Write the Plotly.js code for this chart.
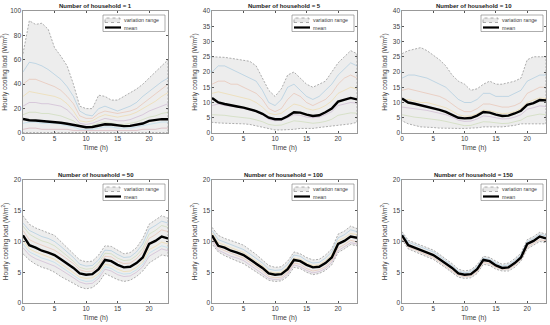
<!DOCTYPE html>
<html>
<head>
<meta charset="utf-8">
<script src="https://cdn.plot.ly/plotly-3.0.1.min.js"></script>
<style>html,body{margin:0;padding:0;background:#fff}#chart{width:550px;height:325px}</style>
</head>
<body>
<div id="chart"></div>
<script>
// ---------- DATA ----------
const hours = [0,1,2,3,4,5,6,7,8,9,10,11,12,13,14,15,16,17,18,19,20,21,22,23];
const householdCounts = [1, 5, 10, 50, 100, 150];
const legendLabels = ['variation range', 'mean'];

// Panel n = 1
const upper1 = [65,92,89,90,85,70,63,55,40,22,20,20,31,30,27,27,30,33,36,40,45,50,55,60];
const lower1 = [0.3,0.3,0.3,0.3,0.3,0.3,0.3,0.3,0.3,0.3,0.3,0.3,0.3,0.3,0.3,0.3,0.3,0.3,0.3,0.3,0.3,0.3,0.3,0.3];
const mean1  = [11.5,10.5,10.2,9.8,9.4,9.0,8.4,7.6,6.6,5.2,4.7,4.9,6.0,7.2,7.0,6.2,5.6,5.8,6.6,7.8,10.0,10.6,11.4,11.3];
const s1a = [50,58,57,55,52,48,44,38,30,18,15,14,20,22,20,18,20,22,25,30,34,38,42,45];
const s1b = [40,44,44,42,40,38,35,30,24,14,12,12,16,18,17,16,17,18,20,24,28,32,36,40];
const s1c = [30,34,33,32,31,30,28,24,18,10,9,10,13,15,14,13,14,15,17,20,23,26,30,33];
const s1d = [22,25,25,24,24,23,22,19,14,8,7,8,10,12,11,10,10,11,13,15,18,20,22,24];
const s1e = [15,17,17,16,16,15,14,12,10,6,5,6,8,9,8,7,7,8,9,11,13,14,16,17];
const s1f = [8,9,9,8,8,8,7,6,5,3,3,3,4,5,5,4,4,4,5,6,7,8,9,9];
const s1g = [3,4,4,3,3,3,3,3,2,2,1.5,1.5,2,2,2,2,2,2,2,3,3,3,4,4];

// Panel n = 5
const upper5 = [25,25,24.8,24.5,24.2,24,23.5,22,18,14,12,14.5,19,20,18,16,15,16,17,20,23,25,27,26];
const lower5 = [3.5,3.3,3.2,3.1,3,3,2.8,2.5,2,1.5,1,1,1,1.2,1.5,1.5,1.5,1.8,2,2.2,2.5,2.8,3,3.5];
const mean5  = [11.5,10,9.5,9,8.7,8.3,7.8,7.2,6.3,5,4.5,4.5,5.5,6.8,6.7,6,5.6,5.8,6.8,8,10.3,11,11.5,11];
const s5a = [20,22,22,21,20,19,18,17,14,10,9,11,15,16,14,12,11,12,14,16,19,21,23,22];
const s5b = [16,17,17,16,16,15,14,13,11,8,7,8,11,13,12,10,9,10,11,13,16,18,19,18];
const s5c = [13,13.5,13,12.5,12,11.5,11,10,8.5,6.5,6,6.5,8,9.5,9,8,7.5,8,9,10.5,13,14,15,14.5];
const s5d = [9,9.5,9,8.8,8.5,8,7.5,7,6,4.5,4,4.2,5,6,5.8,5.2,5,5.2,6,7,9,9.5,10,9.8];
const s5e = [6,6,5.8,5.5,5.3,5,4.8,4.3,3.7,2.8,2.5,2.6,3.2,4,3.8,3.4,3.2,3.4,3.8,4.5,5.8,6.2,6.6,6.5];

// Panel n = 10
const upper10 = [26,27,27.5,28,27,25.5,24,22,19,17,16,14,14.5,16,17,16,16,16.5,17,18,24,25,25,25];
const lower10 = [4,3,2.5,2,2,1.8,1.6,1.5,1.5,1.5,1.5,1.5,1.7,2,2,2,2,2.2,2.5,3,3,3,3,3];
const mean10  = [11.3,10,9.6,9.1,8.8,8.3,7.6,6.9,6.0,5.0,4.8,4.9,5.7,6.9,6.7,6.0,5.6,5.7,6.4,7.3,9.2,9.8,10.8,10.7];
const s10a = [18,19,19,18.5,18,17,16,15,13,11,10,10,11,13,13,12,12,12,13,14,17,18,19,19];
const s10b = [14,14.5,14,13.5,13,12.5,12,11,9.5,8,7,7,8,9.5,9.5,9,8.5,8.5,9,10,13,14,15,15];
const s10c = [11,11,10.5,10,10,9.5,9,8.3,7.2,6,5.5,5.6,6.3,7.5,7.3,6.7,6.3,6.5,7,8,10,10.8,11.5,11.3];
const s10d = [8.5,8.3,8,7.7,7.4,7,6.5,6,5.2,4.2,3.8,3.9,4.6,5.6,5.4,4.9,4.6,4.7,5.2,6,7.8,8.3,8.9,8.7];
const s10e = [6,5.5,5.2,5,4.8,4.5,4.2,3.8,3.3,2.7,2.4,2.5,3,3.7,3.6,3.3,3.1,3.2,3.6,4.2,5.4,5.7,6.2,6];

// Panel n = 50
const upper50 = [14.2,12.8,12.2,11.8,11.5,11,10,9,8,7,6.7,6.8,7.8,9.3,9.2,8.6,8,8.2,9,10.5,12.8,13.5,14.2,13.8];
const lower50 = [8,7,6.3,5.8,5.5,5,4.3,3.7,3.2,2.6,2.3,2.5,3.3,4.8,4.3,3.8,3.5,3.7,4.3,5.2,6.5,7.2,7.8,7.6];
const mean50  = [11,9.4,9,8.5,8.2,7.8,7.1,6.4,5.7,4.8,4.6,4.7,5.5,7.0,6.8,6.2,5.8,5.9,6.5,7.4,9.6,10.1,10.8,10.5];
const s50a = [13,11.8,11.3,10.8,10.5,10,9.2,8.3,7.4,6.3,6,6.1,7,8.6,8.5,7.9,7.4,7.5,8.3,9.6,12,12.6,13.3,13];
const s50b = [11.8,10.3,9.8,9.4,9.1,8.6,7.9,7.2,6.4,5.4,5.1,5.2,6,7.6,7.5,6.8,6.4,6.5,7.2,8.3,10.5,11.1,11.9,11.6];
const s50c = [10.2,8.8,8.3,7.9,7.5,7.1,6.4,5.7,5,4.2,4,4.1,4.8,6.3,6.1,5.5,5.1,5.2,5.8,6.7,8.7,9.2,9.9,9.6];
const s50d = [9,7.8,7.2,6.8,6.5,6,5.4,4.8,4.1,3.4,3.1,3.2,4,5.5,5.2,4.6,4.3,4.4,5,5.9,7.6,8.2,8.8,8.5];
const s50e = [12.5,11.2,10.6,10.1,9.8,9.3,8.5,7.7,6.8,5.8,5.5,5.6,6.5,8.1,8,7.3,6.9,7,7.7,8.9,11.2,11.8,12.6,12.3];
const s50f = [9.6,8.3,7.8,7.3,7,6.6,5.9,5.2,4.6,3.8,3.5,3.6,4.4,5.9,5.6,5,4.7,4.8,5.4,6.3,8.1,8.7,9.3,9];

// Panel n = 100
const upper100 = [12.3,11,10.5,10.2,9.8,9.4,8.7,7.9,7,6.1,5.8,5.9,6.8,8.3,8,7.4,7,7.1,7.8,8.8,11.2,11.7,12.5,12.1];
const lower100 = [9.6,8.3,7.7,7.2,6.8,6.4,5.7,5.1,4.4,3.7,3.5,3.6,4.3,5.8,5.6,5,4.6,4.8,5.3,6.2,8.2,8.8,9.5,9.3];
const mean100  = [11,9.3,9,8.5,8.2,7.8,7.1,6.4,5.7,4.8,4.6,4.7,5.5,7.0,6.8,6.2,5.8,5.9,6.5,7.4,9.6,10.1,10.8,10.6];
const s100a = [11.8,10.3,9.9,9.5,9.1,8.7,8,7.3,6.5,5.5,5.3,5.4,6.3,7.8,7.6,6.9,6.5,6.6,7.3,8.3,10.6,11.1,11.9,11.6];
const s100b = [10.5,9,8.5,8.1,7.7,7.3,6.6,5.9,5.2,4.3,4.1,4.2,5,6.5,6.3,5.6,5.2,5.4,5.9,6.9,8.9,9.5,10.2,9.9];
const s100c = [11.4,9.8,9.4,9,8.6,8.2,7.5,6.8,6.1,5.1,4.9,5,5.9,7.3,7.1,6.5,6.1,6.2,6.9,7.8,10.1,10.6,11.3,11.1];
const s100d = [10.1,8.6,8.1,7.6,7.3,6.9,6.2,5.5,4.8,4,3.8,3.9,4.7,6.2,5.9,5.3,4.9,5.1,5.6,6.6,8.5,9.1,9.8,9.6];

// Panel n = 150
const upper150 = [11.6,10.2,9.8,9.4,9.0,8.6,7.9,7.2,6.4,5.5,5.2,5.4,6.2,7.6,7.4,6.8,6.3,6.5,7.2,8.1,10.3,10.8,11.5,11.2];
const lower150 = [10.3,8.8,8.4,7.9,7.5,7.1,6.4,5.7,5.0,4.2,4.0,4.1,4.8,6.3,6.1,5.5,5.2,5.2,5.8,6.8,8.8,9.4,10.0,9.8];
const mean150  = [11,9.4,9,8.6,8.2,7.8,7.1,6.4,5.7,4.8,4.6,4.7,5.5,7.0,6.8,6.1,5.7,5.8,6.5,7.4,9.6,10.1,10.8,10.5];
const s150a = [11.3,9.9,9.5,9.1,8.7,8.3,7.6,6.9,6.1,5.2,4.9,5.1,5.9,7.3,7.1,6.5,6,6.2,6.9,7.8,10,10.5,11.2,10.9];
const s150b = [10.6,9.1,8.7,8.2,7.8,7.4,6.7,6,5.3,4.5,4.3,4.4,5.1,6.6,6.4,5.8,5.5,5.5,6.1,7.1,9.1,9.7,10.3,10.1];

const yMax = [100, 40, 40, 20, 20, 20];
const yStep = [20, 5, 5, 5, 5, 5];

// ---------- PANELS ----------
const panels = [
  {upper: upper1, lower: lower1, mean: mean1, samples: [s1a, s1b, s1c, s1d, s1e, s1f, s1g]},
  {upper: upper5, lower: lower5, mean: mean5, samples: [s5a, s5b, s5c, s5d, s5e]},
  {upper: upper10, lower: lower10, mean: mean10, samples: [s10a, s10b, s10c, s10d, s10e]},
  {upper: upper50, lower: lower50, mean: mean50, samples: [s50a, s50b, s50c, s50d, s50e, s50f]},
  {upper: upper100, lower: lower100, mean: mean100, samples: [s100a, s100b, s100c, s100d]},
  {upper: upper150, lower: lower150, mean: mean150, samples: [s150a, s150b]}
];

const matlabColors = ['rgba(0,114,189,0.28)','rgba(217,83,25,0.28)','rgba(237,177,32,0.32)',
  'rgba(126,47,142,0.28)','rgba(119,172,48,0.28)','rgba(77,190,238,0.32)','rgba(162,20,47,0.28)'];
const fillColor = 'rgba(225,225,225,0.6)';
const edgeColor = 'rgb(140,140,140)';
const edgeDash = '2px,1.5px';

// pixel-based layout (550 x 325)
const W = 550, H = 325;
const colPx = [[23,168],[212,357],[402,546]];
const rowPx = [[11,133],[180,303]];
const px = v => v / W, py = v => 1 - v / H;

const traces = [];
const layout = {
  width: W, height: H,
  margin: {l:0, r:0, t:0, b:0},
  paper_bgcolor: '#fff', plot_bgcolor: '#fff',
  font: {family: 'Liberation Sans, Arial, sans-serif', size: 7, color: '#404040'},
  showlegend: false,
  annotations: [],
  shapes: []
};

panels.forEach((p, i) => {
  const k = i + 1;
  const xa = 'x' + (k === 1 ? '' : k), ya = 'y' + (k === 1 ? '' : k);
  const col = colPx[i % 3], row = rowPx[Math.floor(i / 3)];
  const xd = [px(col[0]), px(col[1])];
  const yd = [py(row[1]), py(row[0])];

  // envelope polygon built from upper and lower arrays
  traces.push({
    x: hours.concat(hours.slice().reverse()),
    y: p.upper.concat(p.lower.slice().reverse()),
    xaxis: xa, yaxis: ya,
    type: 'scatter', mode: 'lines', fill: 'toself',
    fillcolor: fillColor,
    line: {color: edgeColor, width: 0.7, dash: edgeDash},
    name: legendLabels[0], hoverinfo: 'skip'
  });
  p.samples.forEach((s, j) => {
    traces.push({
      x: hours, y: s, xaxis: xa, yaxis: ya,
      type: 'scatter', mode: 'lines',
      line: {color: matlabColors[j % matlabColors.length], width: 0.7},
      hoverinfo: 'skip'
    });
  });
  traces.push({
    x: hours, y: p.mean, xaxis: xa, yaxis: ya,
    type: 'scatter', mode: 'lines',
    line: {color: '#000', width: 2.4},
    name: legendLabels[1]
  });

  layout['xaxis' + (k === 1 ? '' : k)] = {
    domain: xd, anchor: ya, range: [0, 23],
    tickvals: [0, 5, 10, 15, 20], ticks: 'inside', ticklen: 2, tickcolor: '#555',
    showline: true, linecolor: '#555', linewidth: 0.6, mirror: 'ticks',
    showgrid: false, zeroline: false, tickfont: {size: 6.5, color: '#404040'},
    title: {text: 'Time (h)', font: {size: 6.8, color: '#404040'}, standoff: 3},
    automargin: false
  };
  const tv = [];
  for (let v = 0; v <= yMax[i]; v += yStep[i]) tv.push(v);
  layout['yaxis' + (k === 1 ? '' : k)] = {
    domain: yd, anchor: xa, range: [0, yMax[i]],
    tickvals: tv, ticks: 'inside', ticklen: 2, tickcolor: '#555',
    showline: true, linecolor: '#555', linewidth: 0.6, mirror: 'ticks',
    showgrid: false, zeroline: false, tickfont: {size: 6.5, color: '#404040'},
    title: {text: 'Hourly cooling load (W/m<sup>2</sup>)', font: {size: 6.5, color: '#404040'}, standoff: 4},
    automargin: false
  };

  // legend box drawn in the MATLAB style (top-right of each panel)
  const R = col[1], T = row[0];
  layout.shapes.push(
    {type: 'rect', xref: 'paper', yref: 'paper', x0: px(R - 65), x1: px(R - 3), y0: py(T + 20.5), y1: py(T + 4),
     fillcolor: '#fff', line: {color: '#777', width: 0.6}, layer: 'above'},
    {type: 'rect', xref: 'paper', yref: 'paper', x0: px(R - 63), x1: px(R - 48), y0: py(T + 11.5), y1: py(T + 7),
     fillcolor: 'rgb(232,232,232)', line: {color: edgeColor, width: 0.7, dash: 'dot'}, layer: 'above'},
    {type: 'line', xref: 'paper', yref: 'paper', x0: px(R - 63), x1: px(R - 47), y0: py(T + 16.5), y1: py(T + 16.5),
     line: {color: '#000', width: 2.2}, layer: 'above'}
  );
  layout.annotations.push(
    {text: legendLabels[0], xref: 'paper', yref: 'paper', x: px(R - 46.5), y: py(T + 9.3),
     xanchor: 'left', yanchor: 'middle', showarrow: false, font: {size: 5.3, color: '#404040'}},
    {text: legendLabels[1], xref: 'paper', yref: 'paper', x: px(R - 46.5), y: py(T + 16.5),
     xanchor: 'left', yanchor: 'middle', showarrow: false, font: {size: 5.3, color: '#404040'}},
    {text: '<b>Number of household = ' + householdCounts[i] + '</b>',
     x: (xd[0] + xd[1]) / 2, y: yd[1], xref: 'paper', yref: 'paper',
     xanchor: 'center', yanchor: 'bottom', yshift: 0.5, showarrow: false,
     font: {size: 6, color: '#222'}}
  );
});

Plotly.newPlot('chart', traces, layout, {displayModeBar: false, staticPlot: true});
</script>
</body>
</html>
